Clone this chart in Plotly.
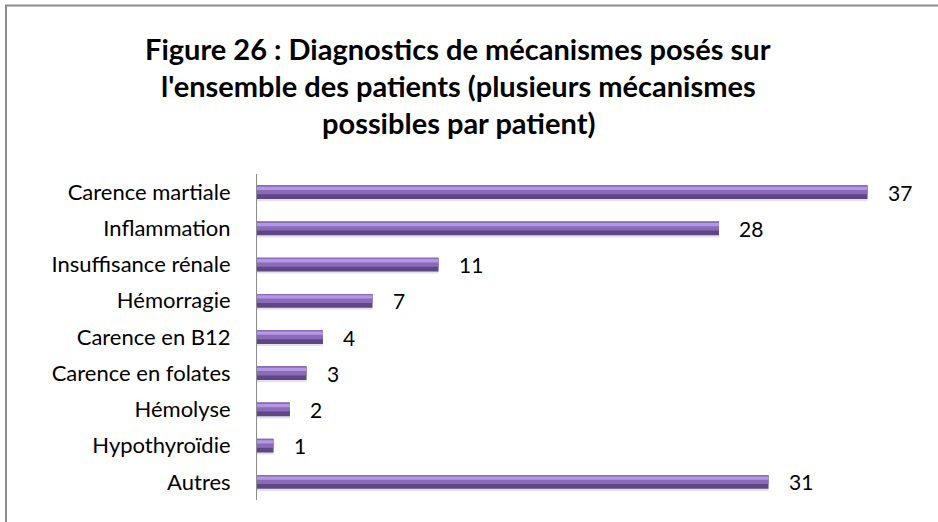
import plotly.graph_objects as go

categories = ["Carence martiale", "Inflammation", "Insuffisance rénale", "Hémorragie",
              "Carence en B12", "Carence en folates", "Hémolyse", "Hypothyroïdie", "Autres"]
values = [37, 28, 11, 7, 4, 3, 2, 1, 31]
title_lines = ["Figure 26 : Diagnostics de mécanismes posés sur",
               "l'ensemble des patients (plusieurs mécanismes",
               "possibles par patient)"]

W, H = 938, 522
L, R, T, B = 257, 21, 174, 22
pw, ph = W - L - R, H - T - B
FONT = "Lato"

def px2paper_x(p):
    return (p - L) / pw

def px2paper_y(p):
    return 1 - (p - T) / ph

fig = go.Figure()
# bar layers: shadow, dark base, main body, highlight
layers = [
    (-0.17, 0.42, "#e4e2e8"),
    (-0.19, 0.38, "#5E4784"),
    (-0.19, 0.25, "#8A6BBA"),
    (-0.15, 0.09, "#B496E2"),
]
for off, wd, col in layers:
    fig.add_trace(go.Bar(
        y=categories, x=values, orientation="h", width=wd, offset=off,
        marker=dict(color=col, line=dict(width=0)),
        hoverinfo="x+y",
    ))

for c, v in zip(categories, values):
    fig.add_annotation(x=v, y=c, text=str(v), showarrow=False, xanchor="left",
                       xshift=18, font=dict(family=FONT, size=21, color="#000"))

for i, line in enumerate(title_lines):
    fig.add_annotation(xref="paper", yref="paper", x=px2paper_x(458),
                       y=px2paper_y(48 + 37 * i), text="<b>" + line + "</b>",
                       showarrow=False, xanchor="center", yanchor="middle",
                       font=dict(family=FONT, size=29, color="#000"))

fig.add_shape(type="rect", xref="paper", yref="paper",
              x0=px2paper_x(6), x1=px2paper_x(960), y0=px2paper_y(560), y1=px2paper_y(5.5),
              line=dict(color="#8c8c8c", width=2), fillcolor="rgba(0,0,0,0)", layer="below")

fig.update_layout(
    width=W, height=H,
    margin=dict(l=L, r=R, t=T, b=B),
    paper_bgcolor="white", plot_bgcolor="white",
    showlegend=False, barmode="overlay",
    xaxis=dict(range=[0, 40], showgrid=False, zeroline=False, showticklabels=False,
               showline=False, ticks="", fixedrange=True),
    yaxis=dict(autorange="reversed", showgrid=False, zeroline=False, showline=True,
               linecolor="#8c8c8c", linewidth=1, ticks="", ticklabelstandoff=21,
               tickfont=dict(family=FONT, size=22, color="#000")),
)

fig.write_html("out.html", config={"displayModeBar": False},
               post_script="document.body.style.margin='0';")
